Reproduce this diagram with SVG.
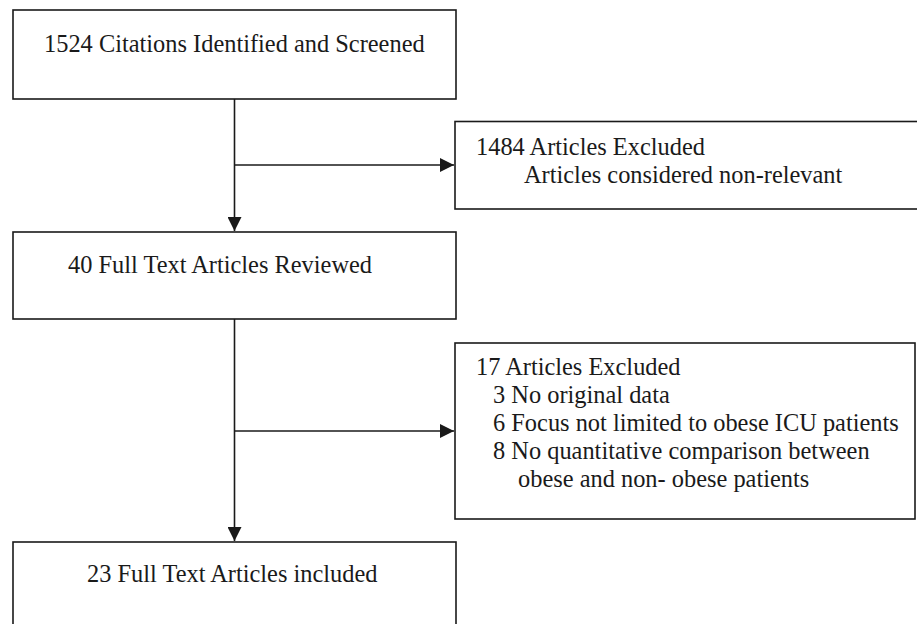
<svg xmlns="http://www.w3.org/2000/svg" width="917" height="624" viewBox="0 0 917 624">
<style>
.box{fill:#fff;stroke:#1a1a1a;stroke-width:1.6}
.t{font-family:'Liberation Serif','Times New Roman',Times,serif;font-size:24.4px;fill:#1a1a1a}
.c{fill:none;stroke:#1a1a1a;stroke-width:1.6}
</style>
<defs>
<marker id="ah" viewBox="0 0 14 14" refX="14" refY="7" markerWidth="14" markerHeight="14" markerUnits="userSpaceOnUse" orient="auto">
<path d="M0,0 L14,7 L0,14 Z" fill="#1a1a1a"/>
</marker>
</defs>
<rect width="917" height="624" fill="#fff"/>
<g id="n1"><rect class="box" x="13" y="10" width="443" height="89"/><text class="t" x="44" y="52">1524 Citations Identified and Screened</text></g>
<g id="n2"><rect class="box" x="455" y="121.5" width="470" height="87.5"/><text class="t" x="476" y="155">1484 Articles Excluded</text><text class="t" x="524" y="183">Articles considered non-relevant</text></g>
<g id="n3"><rect class="box" x="13" y="232" width="443" height="87"/><text class="t" x="68" y="273">40 Full Text Articles Reviewed</text></g>
<g id="n4"><rect class="box" x="455" y="343" width="460" height="176"/>
<text class="t" x="476" y="375">17 Articles Excluded</text>
<text class="t" x="493" y="403">3 No original data</text>
<text class="t" x="493" y="431">6 Focus not limited to obese ICU patients</text>
<text class="t" x="493" y="459">8 No quantitative comparison between</text>
<text class="t" x="518" y="487">obese and non- obese patients</text></g>
<g id="n5"><rect class="box" x="13" y="542" width="443" height="95"/><text class="t" x="87" y="582">23 Full Text Articles included</text></g>
<g id="connectors">
<line class="c" x1="234.5" y1="99" x2="234.5" y2="231" marker-end="url(#ah)"/>
<line class="c" x1="234.5" y1="165" x2="454" y2="165" marker-end="url(#ah)"/>
<line class="c" x1="234.5" y1="319" x2="234.5" y2="541" marker-end="url(#ah)"/>
<line class="c" x1="234.5" y1="431" x2="454" y2="431" marker-end="url(#ah)"/>
</g>
</svg>
